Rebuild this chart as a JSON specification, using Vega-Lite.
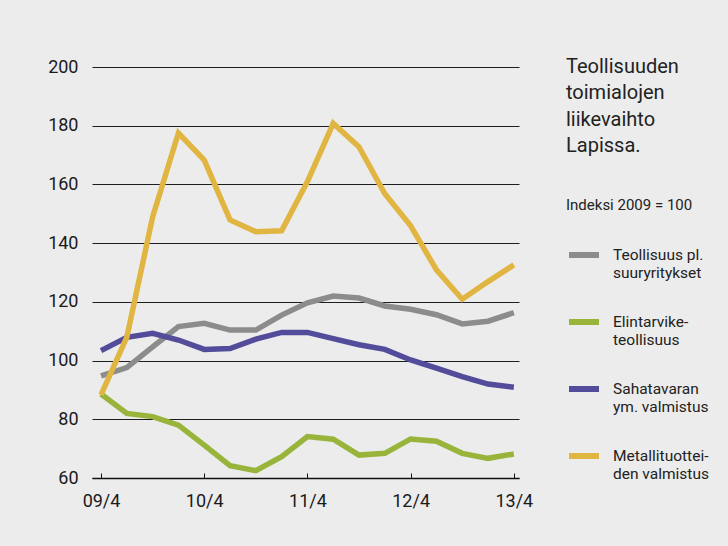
{
  "$schema": "https://vega.github.io/schema/vega-lite/v6.json",
  "width": 427,
  "height": 411,
  "autosize": {"type": "none"},
  "padding": {"left": 92, "top": 67, "right": 209, "bottom": 68},
  "background": "#ececec",
  "title": {
    "text": ["Teollisuuden", "toimialojen", "liikevaihto", "Lapissa."],
    "subtitle": "Indeksi 2009 = 100",
    "anchor": "start",
    "frame": "group",
    "dx": 474,
    "dy": 159
  },
  "data": {
    "values": [
      {"q": 0, "series": "Teollisuus pl. suuryritykset", "value": 94.8},
      {"q": 1, "series": "Teollisuus pl. suuryritykset", "value": 97.6},
      {"q": 2, "series": "Teollisuus pl. suuryritykset", "value": 104.7},
      {"q": 3, "series": "Teollisuus pl. suuryritykset", "value": 111.6},
      {"q": 4, "series": "Teollisuus pl. suuryritykset", "value": 112.7},
      {"q": 5, "series": "Teollisuus pl. suuryritykset", "value": 110.4},
      {"q": 6, "series": "Teollisuus pl. suuryritykset", "value": 110.4},
      {"q": 7, "series": "Teollisuus pl. suuryritykset", "value": 115.5},
      {"q": 8, "series": "Teollisuus pl. suuryritykset", "value": 119.7},
      {"q": 9, "series": "Teollisuus pl. suuryritykset", "value": 122.0},
      {"q": 10, "series": "Teollisuus pl. suuryritykset", "value": 121.3},
      {"q": 11, "series": "Teollisuus pl. suuryritykset", "value": 118.6},
      {"q": 12, "series": "Teollisuus pl. suuryritykset", "value": 117.5},
      {"q": 13, "series": "Teollisuus pl. suuryritykset", "value": 115.6},
      {"q": 14, "series": "Teollisuus pl. suuryritykset", "value": 112.5},
      {"q": 15, "series": "Teollisuus pl. suuryritykset", "value": 113.4},
      {"q": 16, "series": "Teollisuus pl. suuryritykset", "value": 116.3},
      {"q": 0, "series": "Elintarviketeollisuus", "value": 88.6},
      {"q": 1, "series": "Elintarviketeollisuus", "value": 82.0},
      {"q": 2, "series": "Elintarviketeollisuus", "value": 80.9},
      {"q": 3, "series": "Elintarviketeollisuus", "value": 78.0},
      {"q": 4, "series": "Elintarviketeollisuus", "value": 71.2},
      {"q": 5, "series": "Elintarviketeollisuus", "value": 64.2},
      {"q": 6, "series": "Elintarviketeollisuus", "value": 62.5},
      {"q": 7, "series": "Elintarviketeollisuus", "value": 67.3},
      {"q": 8, "series": "Elintarviketeollisuus", "value": 74.1},
      {"q": 9, "series": "Elintarviketeollisuus", "value": 73.2},
      {"q": 10, "series": "Elintarviketeollisuus", "value": 67.8},
      {"q": 11, "series": "Elintarviketeollisuus", "value": 68.4},
      {"q": 12, "series": "Elintarviketeollisuus", "value": 73.3},
      {"q": 13, "series": "Elintarviketeollisuus", "value": 72.5},
      {"q": 14, "series": "Elintarviketeollisuus", "value": 68.4},
      {"q": 15, "series": "Elintarviketeollisuus", "value": 66.7},
      {"q": 16, "series": "Elintarviketeollisuus", "value": 68.2},
      {"q": 0, "series": "Sahatavaran ym. valmistus", "value": 103.4},
      {"q": 1, "series": "Sahatavaran ym. valmistus", "value": 107.9},
      {"q": 2, "series": "Sahatavaran ym. valmistus", "value": 109.3},
      {"q": 3, "series": "Sahatavaran ym. valmistus", "value": 107.0},
      {"q": 4, "series": "Sahatavaran ym. valmistus", "value": 103.8},
      {"q": 5, "series": "Sahatavaran ym. valmistus", "value": 104.1},
      {"q": 6, "series": "Sahatavaran ym. valmistus", "value": 107.3},
      {"q": 7, "series": "Sahatavaran ym. valmistus", "value": 109.6},
      {"q": 8, "series": "Sahatavaran ym. valmistus", "value": 109.6},
      {"q": 9, "series": "Sahatavaran ym. valmistus", "value": 107.5},
      {"q": 10, "series": "Sahatavaran ym. valmistus", "value": 105.4},
      {"q": 11, "series": "Sahatavaran ym. valmistus", "value": 103.8},
      {"q": 12, "series": "Sahatavaran ym. valmistus", "value": 100.2},
      {"q": 13, "series": "Sahatavaran ym. valmistus", "value": 97.4},
      {"q": 14, "series": "Sahatavaran ym. valmistus", "value": 94.5},
      {"q": 15, "series": "Sahatavaran ym. valmistus", "value": 92.0},
      {"q": 16, "series": "Sahatavaran ym. valmistus", "value": 90.9},
      {"q": 0, "series": "Metallituotteiden valmistus", "value": 88.3},
      {"q": 1, "series": "Metallituotteiden valmistus", "value": 108.0},
      {"q": 2, "series": "Metallituotteiden valmistus", "value": 148.9},
      {"q": 3, "series": "Metallituotteiden valmistus", "value": 177.5},
      {"q": 4, "series": "Metallituotteiden valmistus", "value": 168.3},
      {"q": 5, "series": "Metallituotteiden valmistus", "value": 147.9},
      {"q": 6, "series": "Metallituotteiden valmistus", "value": 143.9},
      {"q": 7, "series": "Metallituotteiden valmistus", "value": 144.2},
      {"q": 8, "series": "Metallituotteiden valmistus", "value": 161.0},
      {"q": 9, "series": "Metallituotteiden valmistus", "value": 180.8},
      {"q": 10, "series": "Metallituotteiden valmistus", "value": 172.8},
      {"q": 11, "series": "Metallituotteiden valmistus", "value": 156.8},
      {"q": 12, "series": "Metallituotteiden valmistus", "value": 145.9},
      {"q": 13, "series": "Metallituotteiden valmistus", "value": 130.9},
      {"q": 14, "series": "Metallituotteiden valmistus", "value": 120.9},
      {"q": 15, "series": "Metallituotteiden valmistus", "value": 126.9},
      {"q": 16, "series": "Metallituotteiden valmistus", "value": 132.6}
    ]
  },
  "mark": {"type": "line", "strokeWidth": 5.5, "strokeJoin": "miter", "strokeCap": "butt"},
  "encoding": {
    "x": {
      "field": "q",
      "type": "quantitative",
      "scale": {"domain": [-0.35, 16.2], "nice": false, "zero": false},
      "axis": {
        "title": null,
        "values": [0, 4, 8, 12, 16],
        "labelExpr": "(datum.value == 0 ? '09' : '' + (9 + datum.value / 4)) + '/4'",
        "grid": false,
        "domainColor": "#111111",
        "domainWidth": 1.5,
        "tickColor": "#111111",
        "tickSize": -5,
        "tickWidth": 1,
        "labelPadding": 19,
        "labelFontSize": 18
      }
    },
    "y": {
      "field": "value",
      "type": "quantitative",
      "scale": {"domain": [60, 200], "nice": false, "zero": false},
      "axis": {
        "title": null,
        "values": [60, 80, 100, 120, 140, 160, 180, 200],
        "grid": true,
        "gridColor": "#1e1e1e",
        "gridWidth": 1.2,
        "domain": false,
        "ticks": false,
        "labelPadding": 14,
        "labelFontSize": 18
      }
    },
    "color": {
      "field": "series",
      "type": "nominal",
      "sort": null,
      "scale": {
        "domain": ["Teollisuus pl. suuryritykset", "Elintarviketeollisuus", "Sahatavaran ym. valmistus", "Metallituotteiden valmistus"],
        "range": ["#8c8c8c", "#99b43a", "#534c9b", "#e0b541"]
      },
      "legend": {
        "title": null,
        "orient": "none",
        "legendX": 474,
        "legendY": 170,
        "symbolType": "stroke",
        "symbolSize": 900,
        "symbolStrokeWidth": 6,
        "labelOffset": 11,
        "labelFontSize": 15.5,
        "labelLineHeight": 20,
        "rowPadding": 23,
        "labelExpr": "datum.label == 'Teollisuus pl. suuryritykset' ? ['Teollisuus pl.', 'suuryritykset'] : datum.label == 'Elintarviketeollisuus' ? ['Elintarvike-', 'teollisuus'] : datum.label == 'Sahatavaran ym. valmistus' ? ['Sahatavaran', 'ym. valmistus'] : ['Metallituottei-', 'den valmistus']"
      }
    }
  },
  "config": {
    "font": "Roboto",
    "view": {"stroke": null},
    "axis": {"labelColor": "#1a1a1a", "labelFont": "Roboto"},
    "legend": {"labelColor": "#222222", "labelFont": "Roboto"},
    "title": {
      "font": "Roboto",
      "fontSize": 20,
      "fontWeight": "normal",
      "lineHeight": 26.5,
      "color": "#222222",
      "subtitleFont": "Roboto",
      "subtitleFontSize": 15,
      "subtitleColor": "#222222",
      "subtitlePadding": 42
    }
  }
}
